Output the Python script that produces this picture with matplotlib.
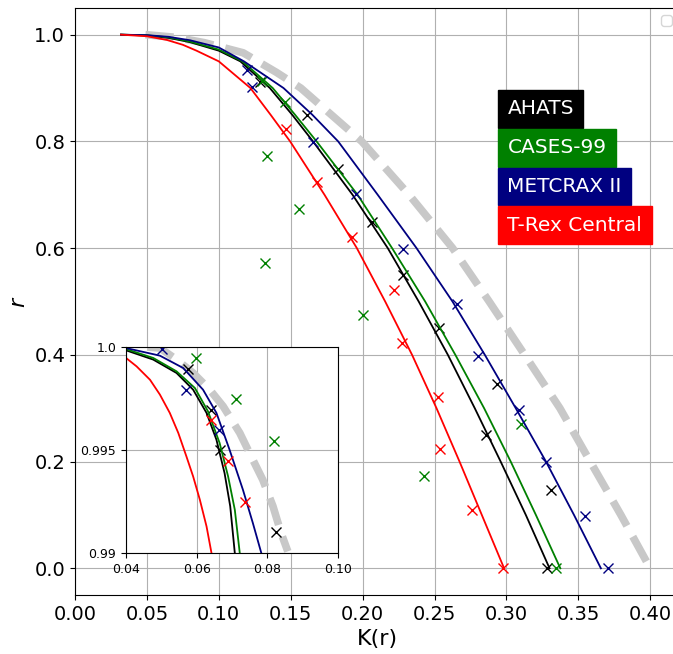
import numpy as np
import matplotlib.pyplot as plt

# fitted curves in the main panel (K, r)
ahats_k = [0.032, 0.050, 0.065, 0.080, 0.100, 0.115, 0.1355, 0.151, 0.1655, 0.193,
           0.2175, 0.239, 0.2593, 0.278, 0.296, 0.3135, 0.330]
ahats_r = [1.0, 0.9985, 0.994, 0.986, 0.970, 0.95, 0.90, 0.85, 0.80, 0.70,
           0.60, 0.50, 0.40, 0.30, 0.20, 0.10, 0.0]

cases_k = [0.032, 0.050, 0.065, 0.080, 0.100, 0.1165, 0.1375, 0.153, 0.168, 0.1965,
           0.2205, 0.2435, 0.2645, 0.2845, 0.303, 0.3205, 0.3375]
cases_r = [1.0, 0.9988, 0.995, 0.987, 0.972, 0.95, 0.90, 0.85, 0.80, 0.70,
           0.60, 0.50, 0.40, 0.30, 0.20, 0.10, 0.0]

metcrax_k = [0.032, 0.050, 0.065, 0.080, 0.100, 0.1175, 0.145, 0.165, 0.183, 0.2105,
             0.2375, 0.2625, 0.285, 0.3065, 0.3275, 0.347, 0.3657]
metcrax_r = [1.0, 0.999, 0.996, 0.9895, 0.976, 0.95, 0.90, 0.85, 0.80, 0.70,
             0.60, 0.50, 0.40, 0.30, 0.20, 0.10, 0.0]

trex_k = [0.032, 0.050, 0.064, 0.075, 0.0845, 0.100, 0.122, 0.136, 0.1496, 0.1735,
          0.196, 0.2157, 0.2344, 0.2514, 0.2674, 0.2829, 0.2984]
trex_r = [1.0, 0.997, 0.99, 0.981, 0.97, 0.95, 0.90, 0.85, 0.80, 0.70,
          0.60, 0.50, 0.40, 0.30, 0.20, 0.10, 0.0]

ref_k = [0.049, 0.070, 0.090, 0.117, 0.1403, 0.157, 0.1994, 0.2323, 0.2626, 0.288,
         0.3127, 0.3372, 0.3583, 0.3796, 0.40]
ref_r = [1.0, 0.995, 0.985, 0.966, 0.929, 0.90, 0.80, 0.70, 0.60, 0.50,
         0.40, 0.30, 0.20, 0.10, 0.0]

# the same curves as drawn in the inset (K, r)
ahats_ck = [0.040, 0.0477, 0.0543, 0.059, 0.0628, 0.0656, 0.0679, 0.0695, 0.0708]
ahats_cr = [0.99984, 0.99939, 0.99874, 0.99793, 0.9968, 0.9955, 0.99388, 0.99227, 0.99]
cases_ck = [0.040, 0.0477, 0.0543, 0.0595, 0.0632, 0.0665, 0.0689, 0.0708, 0.0722]
cases_cr = [0.9999, 0.99947, 0.99882, 0.99801, 0.99688, 0.99534, 0.99372, 0.9921, 0.99]
metcrax_ck = [0.040, 0.0496, 0.0562, 0.0618, 0.0656, 0.0693, 0.0731, 0.0759, 0.0783]
metcrax_cr = [0.99995, 0.99958, 0.99898, 0.99793, 0.9968, 0.99502, 0.99307, 0.99146, 0.99]
trex_ck = [0.040, 0.0430, 0.0468, 0.0496, 0.0524, 0.0548, 0.0571, 0.0590, 0.0609, 0.0628, 0.0642]
trex_cr = [0.99947, 0.99906, 0.99841, 0.99769, 0.9968, 0.99583, 0.99469, 0.99372, 0.99259, 0.99129, 0.99]
ref_ck = [0.046, 0.0496, 0.0543, 0.059, 0.0637, 0.0675, 0.0722, 0.0759, 0.0787, 0.0816, 0.0839, 0.0858]
ref_cr = [1.0, 0.99995, 0.99939, 0.99874, 0.99793, 0.99712, 0.99583, 0.99453, 0.99356, 0.99227, 0.99097, 0.99008]

# measured points, main panel
ahats_pk = [0.1285, 0.1616, 0.1832, 0.2064, 0.2284, 0.2530, 0.2933, 0.2859, 0.3309, 0.3281]
ahats_pr = [0.911, 0.849, 0.748, 0.649, 0.549, 0.451, 0.346, 0.249, 0.147, 0.0]
cases_pk = [0.1300, 0.146, 0.1333, 0.156, 0.1322, 0.2006, 0.2428, 0.3100, 0.3342]
cases_pr = [0.914, 0.874, 0.773, 0.673, 0.573, 0.475, 0.173, 0.271, 0.0]
metcrax_pk = [0.1194, 0.1229, 0.1658, 0.1955, 0.2284, 0.2655, 0.2801, 0.3089, 0.3277, 0.3548, 0.3703]
metcrax_pr = [0.933, 0.901, 0.798, 0.702, 0.599, 0.496, 0.3975, 0.2966, 0.1987, 0.0972, 0.0]
trex_pk = [0.1466, 0.168, 0.1925, 0.2215, 0.2273, 0.2527, 0.2539, 0.276, 0.2975]
trex_pr = [0.823, 0.723, 0.621, 0.521, 0.423, 0.3215, 0.224, 0.11, 0.0]

# measured points, inset
ahats_ik = [0.0576, 0.0642, 0.0665, 0.0825]
ahats_ir = [0.99893, 0.99696, 0.99498, 0.99100]
cases_ik = [0.0599, 0.0710, 0.0820]
cases_ir = [0.99947, 0.99749, 0.99545]
metcrax_ik = [0.0501, 0.0571, 0.0663]
metcrax_ir = [0.9999, 0.99793, 0.99599]
trex_ik = [0.0640, 0.0689, 0.0738]
trex_ir = [0.99644, 0.99445, 0.99246]

sites = ['AHATS', 'CASES-99', 'METCRAX II', 'T-Rex Central']
colors = ['black', 'green', 'navy', 'red']
curves = [(ahats_k, ahats_r), (cases_k, cases_r), (metcrax_k, metcrax_r), (trex_k, trex_r)]
icurves = [(ahats_ck, ahats_cr), (cases_ck, cases_cr), (metcrax_ck, metcrax_cr), (trex_ck, trex_cr)]
points = [(ahats_pk, ahats_pr), (cases_pk, cases_pr), (metcrax_pk, metcrax_pr), (trex_pk, trex_pr)]
ipoints = [(ahats_ik, ahats_ir), (cases_ik, cases_ir), (metcrax_ik, metcrax_ir), (trex_ik, trex_ir)]

fig = plt.figure(figsize=(6.73, 6.54), dpi=100)
ax = fig.add_axes([0.1114, 0.0902, 0.8975, 0.8976])

ax.plot(ref_k, ref_r, '--', color='#c8c8c8', lw=5.5)
for (k, r), (pk, pr), c in zip(curves, points, colors):
    ax.plot(k, r, '-', color=c, lw=1.3)
    ax.plot(pk, pr, 'x', color=c, ms=7, mew=1.0)

ax.set_xlim(0, 0.42)
ax.set_ylim(-0.05, 1.05)
ax.set_xticks(np.arange(0, 0.401, 0.05))
ax.set_yticks(np.arange(0, 1.01, 0.2))
ax.tick_params(labelsize=14)
ax.set_xlabel('K(r)', fontsize=16)
ax.set_ylabel('$r$', fontsize=16)
ax.grid(True)
ax.legend(handles=[], labels=[], loc='upper right')

# site labels as coloured boxes
for i, (s, c) in enumerate(zip(sites, colors)):
    ax.text(0.3007, 0.8613 - i * 0.0729, s, color='white', fontsize=14.5, ha='left', va='center',
            bbox=dict(boxstyle='square,pad=0.47', facecolor=c, edgecolor=c))

# zoomed inset
ins = fig.add_axes([0.1872, 0.1544, 0.315, 0.315])
ins.plot(ref_ck, ref_cr, '--', color='#c8c8c8', lw=5.5)
for (k, r), (pk, pr), c in zip(icurves, ipoints, colors):
    ins.plot(k, r, '-', color=c, lw=1.3)
    ins.plot(pk, pr, 'x', color=c, ms=7, mew=1.0)
ins.set_xlim(0.04, 0.10)
ins.set_ylim(0.99, 1.0)
ins.set_xticks([0.04, 0.06, 0.08, 0.10])
ins.set_xticklabels(['0.04', '0.06', '0.08', '0.10'])
ins.set_yticks([0.99, 0.995, 1.0])
ins.set_yticklabels(['0.99', '0.995', '1.0'])
ins.tick_params(labelsize=9)
ins.grid(True)

plt.savefig('out.png', dpi=100)
